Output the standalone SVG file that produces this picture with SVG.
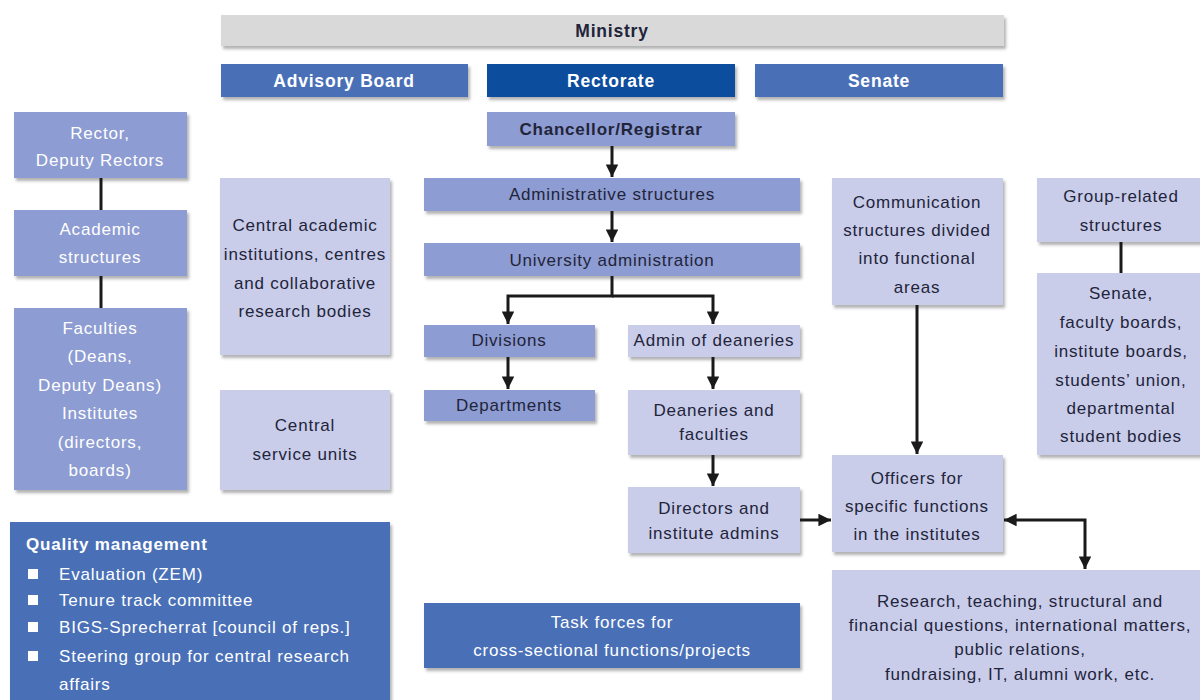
<svg xmlns="http://www.w3.org/2000/svg" width="1200" height="700" viewBox="0 0 1200 700">
<defs>
<filter id="sh" x="-5%" y="-5%" width="115%" height="130%">
<feDropShadow dx="2" dy="3" stdDeviation="1.5" flood-color="#555" flood-opacity="0.45"/>
</filter>
<marker id="ah" viewBox="0 0 10 10" refX="10" refY="5" markerWidth="4.2" markerHeight="4.2" orient="auto" markerUnits="strokeWidth">
<path d="M0,0 L10,5 L0,10 Z" fill="#1a1a1a"/>
</marker>
<marker id="ahs" viewBox="0 0 10 10" refX="10" refY="5" markerWidth="4.2" markerHeight="4.2" orient="auto-start-reverse" markerUnits="strokeWidth">
<path d="M0,0 L10,5 L0,10 Z" fill="#1a1a1a"/>
</marker>
</defs>
<style>
text{font-family:"Liberation Sans",Arial,sans-serif;font-size:17px;letter-spacing:0.8px;text-anchor:middle}
.gray{fill:#d9d9d9}
.blue{fill:#4a70b7}
.dark{fill:#0b4e9d}
.med{fill:#8d9cd2}
.light{fill:#c9cdea}
rect{filter:url(#sh)}
.tw{fill:#ffffff}
.tk{fill:#22243a}
.b{font-weight:bold}
.big{font-size:17.5px}
.qm{text-anchor:start}
.conn{fill:none;stroke:#1a1a1a;stroke-width:3}
</style>
<rect width="1200" height="700" fill="#ffffff" style="filter:none"/>

<g id="ministry"><rect class="gray" x="221" y="15" width="783" height="31"/><text class="tk b big" x="612" y="37">Ministry</text></g>
<g id="advisory"><rect class="blue" x="221" y="64" width="247" height="33"/><text class="tw b big" x="344" y="87">Advisory Board</text></g>
<g id="rectorate"><rect class="dark" x="487" y="64" width="248" height="33"/><text class="tw b big" x="611" y="87">Rectorate</text></g>
<g id="senate"><rect class="blue" x="755" y="64" width="248" height="33"/><text class="tw b big" x="879" y="87">Senate</text></g>

<g id="rector"><rect class="med" x="14" y="112" width="173" height="66"/><text class="tw" x="100" y="139">Rector,</text><text class="tw" x="100" y="166">Deputy Rectors</text></g>
<g id="academic"><rect class="med" x="14" y="210" width="173" height="66"/><text class="tw" x="100" y="235">Academic</text><text class="tw" x="100" y="263">structures</text></g>
<g id="faculties"><rect class="med" x="14" y="308" width="173" height="182"/>
<text class="tw" x="100" y="334">Faculties</text><text class="tw" x="100" y="362">(Deans,</text><text class="tw" x="100" y="391">Deputy Deans)</text><text class="tw" x="100" y="419">Institutes</text><text class="tw" x="100" y="448">(directors,</text><text class="tw" x="100" y="476">boards)</text></g>

<g id="central-academic"><rect class="light" x="220" y="178" width="170" height="177"/>
<text class="tk" x="305" y="231">Central academic</text><text class="tk" x="305" y="260">institutions, centres</text><text class="tk" x="305" y="289">and collaborative</text><text class="tk" x="305" y="317">research bodies</text></g>
<g id="central-service"><rect class="light" x="220" y="390" width="170" height="100"/>
<text class="tk" x="305" y="431">Central</text><text class="tk" x="305" y="460">service units</text></g>

<g id="chancellor"><rect class="med" x="487" y="112" width="248" height="34"/><text class="tk b" x="611" y="135">Chancellor/Registrar</text></g>
<g id="admin-structures"><rect class="med" x="424" y="178" width="376" height="33"/><text class="tk" x="612" y="200">Administrative structures</text></g>
<g id="uni-admin"><rect class="med" x="424" y="243" width="376" height="33"/><text class="tk" x="612" y="266">University administration</text></g>
<g id="divisions"><rect class="med" x="424" y="325" width="171" height="32"/><text class="tk" x="509" y="346">Divisions</text></g>
<g id="departments"><rect class="med" x="424" y="390" width="171" height="31"/><text class="tk" x="509" y="411">Departments</text></g>
<g id="admin-deaneries"><rect class="light" x="628" y="325" width="172" height="32"/><text class="tk" x="714" y="346">Admin of deaneries</text></g>
<g id="deaneries"><rect class="light" x="628" y="390" width="172" height="65"/><text class="tk" x="714" y="416">Deaneries and</text><text class="tk" x="714" y="440">faculties</text></g>
<g id="directors"><rect class="light" x="628" y="487" width="172" height="66"/><text class="tk" x="714" y="514">Directors and</text><text class="tk" x="714" y="539">institute admins</text></g>

<g id="communication"><rect class="light" x="832" y="178" width="171" height="127"/>
<text class="tk" x="917" y="208">Communication</text><text class="tk" x="917" y="236">structures divided</text><text class="tk" x="917" y="264">into functional</text><text class="tk" x="917" y="293">areas</text></g>
<g id="officers"><rect class="light" x="832" y="455" width="171" height="97"/>
<text class="tk" x="917" y="484">Officers for</text><text class="tk" x="917" y="512">specific functions</text><text class="tk" x="917" y="540">in the institutes</text></g>
<g id="group-related"><rect class="light" x="1037" y="178" width="170" height="64"/>
<text class="tk" x="1121" y="202">Group-related</text><text class="tk" x="1121" y="231">structures</text></g>
<g id="senate-bodies"><rect class="light" x="1037" y="273" width="170" height="182"/>
<text class="tk" x="1121" y="299">Senate,</text><text class="tk" x="1121" y="328">faculty boards,</text><text class="tk" x="1121" y="357">institute boards,</text><text class="tk" x="1121" y="386">students’ union,</text><text class="tk" x="1121" y="414">departmental</text><text class="tk" x="1121" y="442">student bodies</text></g>
<g id="research"><rect class="light" x="832" y="570" width="375" height="135"/>
<text class="tk" x="1020" y="607">Research, teaching, structural and</text><text class="tk" x="1020" y="631">financial questions, international matters,</text><text class="tk" x="1020" y="655">public relations,</text><text class="tk" x="1020" y="680">fundraising, IT, alumni work, etc.</text></g>

<g id="quality"><rect class="blue" x="10" y="522" width="380" height="185"/>
<text class="tw b qm" x="26" y="550">Quality management</text>
<rect x="28" y="569" width="10" height="10" fill="#fff" style="filter:none"/><text class="tw qm" x="59" y="580">Evaluation (ZEM)</text>
<rect x="28" y="595" width="10" height="10" fill="#fff" style="filter:none"/><text class="tw qm" x="59" y="606">Tenure track committee</text>
<rect x="28" y="622" width="10" height="10" fill="#fff" style="filter:none"/><text class="tw qm" x="59" y="633">BIGS-Sprecherrat [council of reps.]</text>
<rect x="28" y="651" width="10" height="10" fill="#fff" style="filter:none"/><text class="tw qm" x="59" y="662">Steering group for central research</text>
<text class="tw qm" x="59" y="690">affairs</text></g>
<g id="task-forces"><rect class="blue" x="424" y="603" width="376" height="65"/>
<text class="tw" x="612" y="628">Task forces for</text><text class="tw" x="612" y="656">cross-sectional functions/projects</text></g>

<g id="connectors">
<line class="conn" x1="101" y1="178" x2="101" y2="210"/>
<line class="conn" x1="101" y1="276" x2="101" y2="308"/>
<line class="conn" x1="1121" y1="242" x2="1121" y2="273"/>
<line class="conn" x1="612" y1="146" x2="612" y2="177" marker-end="url(#ah)"/>
<line class="conn" x1="612" y1="211" x2="612" y2="242" marker-end="url(#ah)"/>
<polyline class="conn" points="612,276 612,296 508,296 508,324" marker-end="url(#ah)"/>
<polyline class="conn" points="612,296 713,296 713,324" marker-end="url(#ah)"/>
<line class="conn" x1="508" y1="357" x2="508" y2="389" marker-end="url(#ah)"/>
<line class="conn" x1="713" y1="357" x2="713" y2="389" marker-end="url(#ah)"/>
<line class="conn" x1="713" y1="455" x2="713" y2="486" marker-end="url(#ah)"/>
<line class="conn" x1="800" y1="520" x2="831" y2="520" marker-end="url(#ah)"/>
<line class="conn" x1="917" y1="305" x2="917" y2="454" marker-end="url(#ah)"/>
<polyline class="conn" points="1004,520 1085,520 1085,569" marker-start="url(#ahs)" marker-end="url(#ah)"/>
</g>
</svg>
